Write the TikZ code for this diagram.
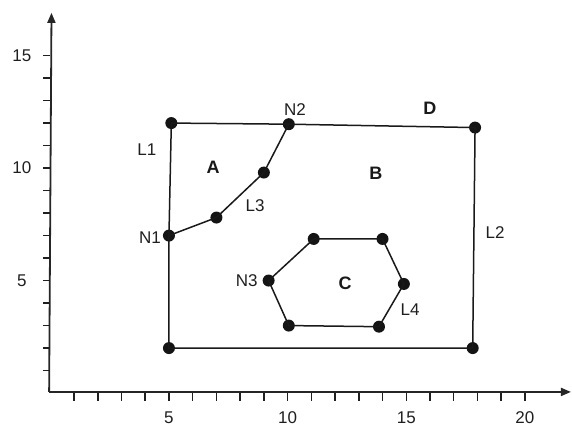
\documentclass[tikz,border=0pt]{standalone}
\usepackage{fontspec}
\setmainfont{Liberation Sans}
\usetikzlibrary{arrows.meta}
\begin{document}
\begin{tikzpicture}[x=23.73pt,y=22.5pt,
  dot/.style={circle,fill=black!92,inner sep=0pt,minimum size=12pt},
  edge/.style={line width=1.5pt,draw=black!90},
  axis/.style={line width=1.8pt,draw=black!85,-{Triangle[length=10pt,width=8pt]}},
  tick/.style={line width=1.5pt,draw=black!88},
  lab/.style={font=\fontsize{17}{20}\selectfont,text=black!88,inner sep=0pt},
  reg/.style={font=\fontsize{18}{21}\selectfont\bfseries,text=black!90,inner sep=0pt}]
\useasboundingbox (-2.12,-1.51) rectangle (21.985,17.47);
% axes
\coordinate (o) at (-0.05,0.05);
\coordinate (ytop) at (0.05,16.9);
\coordinate (xend) at (21.94,0.05);
\draw[axis] (o) -- (ytop);
\draw[axis] (o) -- (xend);
\foreach \i in {1,...,15} \draw[tick] (-0.3,\i) -- (0,\i);
\foreach \i in {1,...,20} \draw[tick] (\i,0) -- (\i,-0.36);
\foreach \i in {5,10,15} \node[lab] at (-1.2,\i) {\i};
\foreach \i in {5,10,15,20} \node[lab] at (\i,-1.1) {\i};
% outer rectangle
\node[dot] (tl) at (5.1,12) {};
\node[dot] (bl) at (5,2) {};
\node[dot] (tr) at (17.9,11.8) {};
\node[dot] (br) at (17.8,2) {};
\node[dot] (n2) at (10.05,11.95) {};
\node[dot] (n1) at (5,7) {};
\node[dot] (p1) at (7,7.8) {};
\node[dot] (p2) at (9,9.8) {};
\draw[edge] (tl.center) -- (n2.center) -- (tr.center) -- (br.center) -- (bl.center) -- (n1.center) -- (tl.center);
\draw[edge] (n1.center) -- (p1.center) -- (p2.center) -- (n2.center);
% hexagon
\node[dot] (h1) at (11.1,6.85) {};
\node[dot] (h2) at (14,6.85) {};
\node[dot] (h3) at (14.9,4.85) {};
\node[dot] (h4) at (13.85,2.95) {};
\node[dot] (h5) at (10.05,3) {};
\node[dot] (n3) at (9.2,5) {};
\draw[edge] (h1.center) -- (h2.center) -- (h3.center) -- (h4.center) -- (h5.center) -- (n3.center) -- cycle;
% labels
\node[lab] at (4.07,10.8) {L1};
\node[lab] at (4.2,6.9) {N1};
\node[lab] at (10.31,12.6) {N2};
\node[lab] at (8.63,8.35) {L3};
\node[lab] at (18.74,7.15) {L2};
\node[lab] at (8.28,5.0) {N3};
\node[lab] at (15.16,3.7) {L4};
\node[reg] at (6.86,10.05) {A};
\node[reg] at (13.72,9.78) {B};
\node[reg] at (12.42,4.89) {C};
\node[reg] at (16.0,12.67) {D};
\end{tikzpicture}
\end{document}
